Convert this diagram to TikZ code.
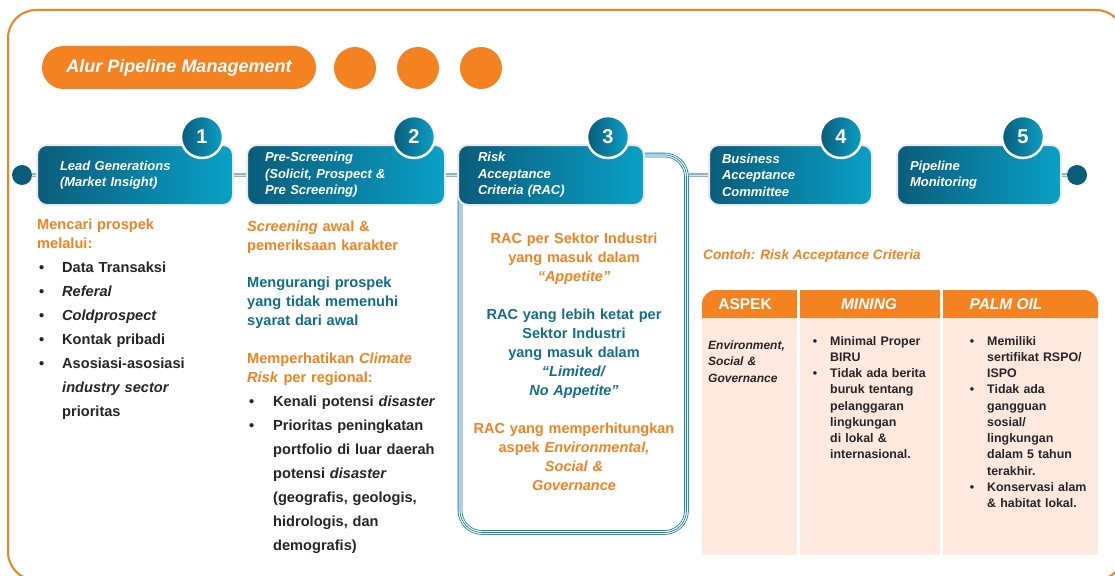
\documentclass[tikz,border=0pt]{standalone}
\usepackage{fontspec}
\setmainfont{Liberation Sans}
\usetikzlibrary{positioning}

\definecolor{pipeorange}{HTML}{F58220}
\definecolor{pipeteal}{HTML}{0F6E8C}
\definecolor{stepdark}{HTML}{0A5C7B}
\definecolor{steplight}{HTML}{0AA0C6}
\definecolor{racline}{HTML}{137FA6}
\definecolor{peach}{HTML}{FDE9DE}
\definecolor{inkdark}{HTML}{262425}
\definecolor{linkgrey}{HTML}{8DB6C6}

\newcommand{\stepbullet}[1]{\leavevmode\llap{\textbullet\hspace{#1}}}

\begin{document}
\begin{tikzpicture}[x=1pt,y=-1pt,
  stepbox/.style={rectangle, rounded corners=10pt, minimum height=60pt,
    inner sep=0pt, align=left, text=white,
    font=\bfseries\itshape\fontsize{13}{16.5}\selectfont,
    left color=stepdark, right color=steplight, draw=black!8, line width=2pt},
  numbadge/.style={circle, minimum size=42pt, inner sep=0pt,
    left color=stepdark, right color=steplight, draw=white, line width=2.5pt,
    text=white, font=\bfseries\fontsize{20}{20}\selectfont},
  enddot/.style={circle, minimum size=20pt, inner sep=0pt, fill=stepdark},
  link/.style={draw=linkgrey, line width=1.3pt, double=linkgrey!35, double distance=1pt},
  racpanel/.style={rectangle, rounded corners=22pt, inner sep=0pt,
    draw=racline, line width=4.6pt,
    postaction={draw=white, line width=3pt},
    postaction={draw=racline, line width=0.7pt}},
  body/.style={inner sep=0pt, anchor=base west, align=left, text width=220pt,
    font=\bfseries\fontsize{14.6}{19}\selectfont},
  listbody/.style={body, text=inkdark, font=\bfseries\fontsize{14.6}{24}\selectfont},
  racbody/.style={inner sep=0pt, anchor=base, align=center, text width=224pt,
    font=\bfseries\fontsize{14.5}{19}\selectfont},
  headcell/.style={inner sep=0pt, anchor=base, text=white,
    font=\bfseries\fontsize{15.5}{18}\selectfont},
  cellbody/.style={inner sep=0pt, anchor=base west, align=left, text width=150pt,
    text=inkdark, font=\bfseries\fontsize{12.4}{16.25}\selectfont}
]
\useasboundingbox (0,0) rectangle (1115,575);

% Outer frame
\draw[pipeorange, line width=2pt, rounded corners=28pt] (8,10) rectangle (1124,580);

% Title and dots
\node[fill=pipeorange, rounded corners=21.5pt, minimum width=274pt, minimum height=43pt,
  text=white, font=\bfseries\itshape\fontsize{18}{18}\selectfont] (title) at (179,67.5)
  {Alur Pipeline Management};
\foreach \cx [count=\i] in {355,418,481}
  \node[circle, fill=pipeorange, minimum size=42pt, inner sep=0pt] (deco\i) at (\cx,68) {};

% RAC panel behind step 3
\node[racpanel, minimum width=226.5pt, minimum height=377.5pt] (rac) at (573.25,343.75) {};

% Steps
\node[enddot] (start) at (22,175) {};
\node[enddot] (finish) at (1077,175) {};
\node[stepbox, minimum width=196pt, text width=150pt] (lead) at (135,175)
  {Lead Generations\\(Market Insight)};
\node[stepbox, minimum width=198pt, text width=162pt] (prescreen) at (346,175)
  {Pre-Screening\\(Solicit, Prospect \&\\Pre Screening)};
\node[stepbox, minimum width=186pt, text width=146pt] (racstep) at (551,175)
  {Risk\\Acceptance\\Criteria (RAC)};
\node[stepbox, minimum width=163pt, text width=137pt] (bac) at (790.5,175)
  {Business\\Acceptance\\Committee};
\node[stepbox, minimum width=164pt, text width=138pt] (monitor) at (979,175)
  {Pipeline\\Monitoring};

% Links
\draw[link] (start) -- (lead);
\draw[link] (lead) -- (prescreen);
\draw[link] (prescreen) -- (racstep);
\draw[link] (rac.east |- bac.west) -- (bac);
\draw[link] (monitor) -- (finish);

% Number badges
\node[numbadge] (num1) at (202,137) {1};
\node[numbadge] (num2) at (414,137) {2};
\node[numbadge] (num3) at (608,137) {3};
\node[numbadge] (num4) at (841,137) {4};
\node[numbadge] (num5) at (1023,137) {5};

% Column 1
\node[body, text=pipeorange] (lead-goal) at (37,229) {Mencari prospek\\melalui:};
\node[listbody] (lead-list) at (62,272)
  {\stepbullet{18pt}Data Transaksi\\
   \stepbullet{18pt}\textit{Referal}\\
   \stepbullet{18pt}\textit{Coldprospect}\\
   \stepbullet{18pt}Kontak pribadi\\
   \stepbullet{18pt}Asosiasi-asosiasi\\
   \textit{industry sector}\\
   prioritas};

% Column 2
\node[body, text=pipeorange] (screen-goal) at (247,231)
  {\textit{Screening} awal \&\\pemeriksaan karakter};
\node[body, text=pipeteal] (screen-cut) at (247,287)
  {Mengurangi prospek\\yang tidak memenuhi\\syarat dari awal};
\node[body, text=pipeorange] (screen-climate) at (247,363)
  {Memperhatikan \textit{Climate}\\\textit{Risk} per regional:};
\node[listbody] (screen-list) at (273,406)
  {\stepbullet{19pt}Kenali potensi \textit{disaster}\\
   \stepbullet{19pt}Prioritas peningkatan\\
   portfolio di luar daerah\\
   potensi \textit{disaster}\\
   (geografis, geologis,\\
   hidrologis, dan\\
   demografis)};

% Column 3
\node[racbody, text=pipeorange] (rac-appetite) at (574,243)
  {RAC per Sektor Industri\\yang masuk dalam\\\textit{“Appetite”}};
\node[racbody, text=pipeteal] (rac-limited) at (574,319)
  {RAC yang lebih ketat per\\Sektor Industri\\yang masuk dalam\\\textit{“Limited/}\\\textit{No Appetite”}};
\node[racbody, text=pipeorange] (rac-esg) at (574,433)
  {RAC yang memperhitungkan\\aspek \textit{Environmental,}\\\textit{Social \&}\\\textit{Governance}};

% Example table
\node[inner sep=0pt, anchor=base west, text=pipeorange,
  font=\bfseries\itshape\fontsize{13.6}{16}\selectfont] (example-title) at (703,259)
  {Contoh: Risk Acceptance Criteria};
\fill[pipeorange, rounded corners=14pt] (702,290) rectangle (1098,332);
\fill[peach] (702,318) rectangle (1098,555);
\fill[white] (797,290) rectangle (800,555);
\fill[white] (940,290) rectangle (943,555);
\node[headcell] (th-aspek) at (745,309) {ASPEK};
\node[headcell, font=\bfseries\itshape\fontsize{15.5}{18}\selectfont] (th-mining) at (869,309) {MINING};
\node[headcell, font=\bfseries\itshape\fontsize{15.5}{18}\selectfont] (th-palm) at (1006,309) {PALM OIL};
\node[cellbody, font=\bfseries\itshape\fontsize{12}{16.5}\selectfont] (esg-cell) at (708,349)
  {Environment,\\Social \&\\Governance};
\node[cellbody] (mining-cell) at (830,345)
  {\stepbullet{13pt}Minimal Proper\\BIRU\\
   \stepbullet{13pt}Tidak ada berita\\buruk tentang\\pelanggaran\\lingkungan\\di lokal \&\\internasional.};
\node[cellbody] (palm-cell) at (987,345)
  {\stepbullet{13pt}Memiliki\\sertifikat RSPO/\\ISPO\\
   \stepbullet{13pt}Tidak ada\\gangguan\\sosial/\\lingkungan\\dalam 5 tahun\\terakhir.\\
   \stepbullet{13pt}Konservasi alam\\\& habitat lokal.};
\end{tikzpicture}
\end{document}
